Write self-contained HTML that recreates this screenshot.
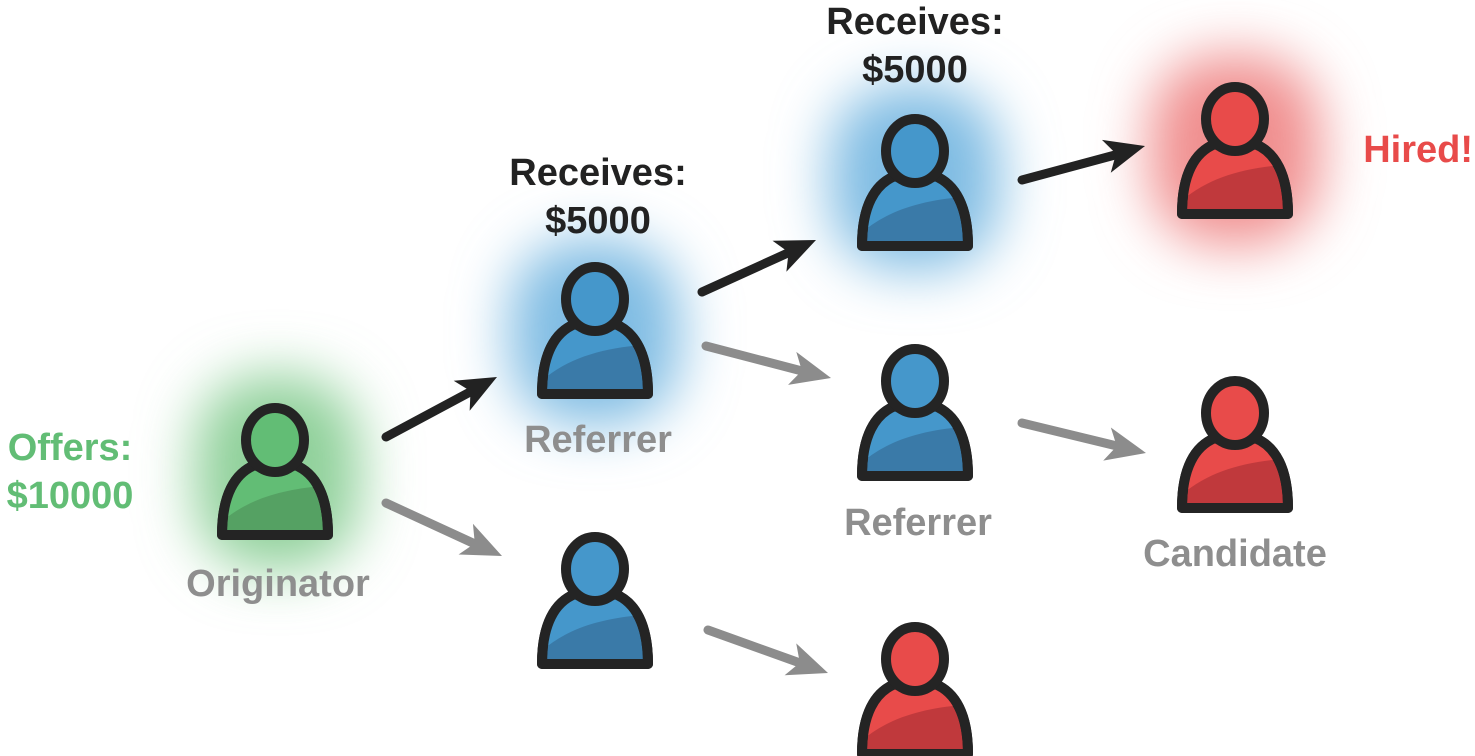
<!DOCTYPE html>
<html><head><meta charset="utf-8"><style>
html,body{margin:0;padding:0;background:#fff;width:1475px;height:756px;overflow:hidden}
svg{display:block}
text{font-family:"Liberation Sans",Arial,sans-serif;font-weight:bold;font-size:38px;text-anchor:middle}
</style></head><body>
<svg width="1475" height="756" viewBox="0 0 1475 756" xmlns="http://www.w3.org/2000/svg">
<defs>
<filter id="blur" x="-50%" y="-50%" width="200%" height="200%"><feGaussianBlur stdDeviation="28"/></filter>
<clipPath id="bc"><path d="M -53 132 L 53 132 C 53 92 40 70 20 62 Q 0 72 -20 62 C -40 70 -53 92 -53 132 Z"/></clipPath>
</defs>

<rect x="195" y="375" width="165" height="195" rx="70" fill="#8fd09a" filter="url(#blur)"/>
<rect x="510" y="240" width="170" height="185" rx="70" fill="#7fbce3" filter="url(#blur)"/>
<rect x="830" y="85" width="170" height="185" rx="70" fill="#7fbce3" filter="url(#blur)"/>
<rect x="1150" y="55" width="170" height="190" rx="70" fill="#f08e8e" filter="url(#blur)"/>

<g stroke-linecap="round" stroke-width="9" fill="none">
<line x1="386" y1="437" x2="470" y2="392" stroke="#222"/>
<line x1="702" y1="292" x2="790" y2="252" stroke="#222"/>
<line x1="1022" y1="180" x2="1115" y2="155" stroke="#222"/>
<line x1="386" y1="503" x2="475" y2="544" stroke="#8c8c8c"/>
<line x1="706" y1="346" x2="802" y2="371" stroke="#8c8c8c"/>
<line x1="1022" y1="423" x2="1117" y2="446" stroke="#8c8c8c"/>
<line x1="708" y1="630" x2="800" y2="663" stroke="#8c8c8c"/>
</g>
<g>
<path transform="translate(497,377) rotate(-28)" d="M0 0 L-40 -17 L-30 0 L-40 17 Z" fill="#222"/>
<path transform="translate(816,240) rotate(-24)" d="M0 0 L-40 -17 L-30 0 L-40 17 Z" fill="#222"/>
<path transform="translate(1145,146) rotate(-15)" d="M0 0 L-40 -17 L-30 0 L-40 17 Z" fill="#222"/>
<path transform="translate(502,556) rotate(25)" d="M0 0 L-40 -17 L-30 0 L-40 17 Z" fill="#8c8c8c"/>
<path transform="translate(831,378) rotate(14)" d="M0 0 L-40 -17 L-30 0 L-40 17 Z" fill="#8c8c8c"/>
<path transform="translate(1146,453) rotate(13)" d="M0 0 L-40 -17 L-30 0 L-40 17 Z" fill="#8c8c8c"/>
<path transform="translate(828,673) rotate(20)" d="M0 0 L-40 -17 L-30 0 L-40 17 Z" fill="#8c8c8c"/>
</g>

<g stroke="#242424" stroke-width="10" stroke-linejoin="round">
<g transform="translate(275,403)">
 <path d="M -53 132 L 53 132 C 53 92 40 70 20 62 Q 0 72 -20 62 C -40 70 -53 92 -53 132 Z" fill="#55a163"/>
 <path clip-path="url(#bc)" stroke="none" d="M -60 125 C -30 95 10 85 60 82 L 60 50 L -60 50 Z" fill="#62bd75"/>
 <path d="M -53 132 L 53 132 C 53 92 40 70 20 62 Q 0 72 -20 62 C -40 70 -53 92 -53 132 Z" fill="none"/>
 <ellipse cx="0" cy="37" rx="29" ry="32" fill="#62bd75"/>
</g>
<g transform="translate(595,262)">
 <path d="M -53 132 L 53 132 C 53 92 40 70 20 62 Q 0 72 -20 62 C -40 70 -53 92 -53 132 Z" fill="#3a7aa8"/>
 <path clip-path="url(#bc)" stroke="none" d="M -60 125 C -30 95 10 85 60 82 L 60 50 L -60 50 Z" fill="#4597cb"/>
 <path d="M -53 132 L 53 132 C 53 92 40 70 20 62 Q 0 72 -20 62 C -40 70 -53 92 -53 132 Z" fill="none"/>
 <ellipse cx="0" cy="37" rx="29" ry="32" fill="#4597cb"/>
</g>
<g transform="translate(915,114)">
 <path d="M -53 132 L 53 132 C 53 92 40 70 20 62 Q 0 72 -20 62 C -40 70 -53 92 -53 132 Z" fill="#3a7aa8"/>
 <path clip-path="url(#bc)" stroke="none" d="M -60 125 C -30 95 10 85 60 82 L 60 50 L -60 50 Z" fill="#4597cb"/>
 <path d="M -53 132 L 53 132 C 53 92 40 70 20 62 Q 0 72 -20 62 C -40 70 -53 92 -53 132 Z" fill="none"/>
 <ellipse cx="0" cy="37" rx="29" ry="32" fill="#4597cb"/>
</g>
<g transform="translate(915,344)">
 <path d="M -53 132 L 53 132 C 53 92 40 70 20 62 Q 0 72 -20 62 C -40 70 -53 92 -53 132 Z" fill="#3a7aa8"/>
 <path clip-path="url(#bc)" stroke="none" d="M -60 125 C -30 95 10 85 60 82 L 60 50 L -60 50 Z" fill="#4597cb"/>
 <path d="M -53 132 L 53 132 C 53 92 40 70 20 62 Q 0 72 -20 62 C -40 70 -53 92 -53 132 Z" fill="none"/>
 <ellipse cx="0" cy="37" rx="29" ry="32" fill="#4597cb"/>
</g>
<g transform="translate(595,532)">
 <path d="M -53 132 L 53 132 C 53 92 40 70 20 62 Q 0 72 -20 62 C -40 70 -53 92 -53 132 Z" fill="#3a7aa8"/>
 <path clip-path="url(#bc)" stroke="none" d="M -60 125 C -30 95 10 85 60 82 L 60 50 L -60 50 Z" fill="#4597cb"/>
 <path d="M -53 132 L 53 132 C 53 92 40 70 20 62 Q 0 72 -20 62 C -40 70 -53 92 -53 132 Z" fill="none"/>
 <ellipse cx="0" cy="37" rx="29" ry="32" fill="#4597cb"/>
</g>
<g transform="translate(1235,82)">
 <path d="M -53 132 L 53 132 C 53 92 40 70 20 62 Q 0 72 -20 62 C -40 70 -53 92 -53 132 Z" fill="#c0393c"/>
 <path clip-path="url(#bc)" stroke="none" d="M -60 125 C -30 95 10 85 60 82 L 60 50 L -60 50 Z" fill="#e84b4a"/>
 <path d="M -53 132 L 53 132 C 53 92 40 70 20 62 Q 0 72 -20 62 C -40 70 -53 92 -53 132 Z" fill="none"/>
 <ellipse cx="0" cy="37" rx="29" ry="32" fill="#e84b4a"/>
</g>
<g transform="translate(1235,376)">
 <path d="M -53 132 L 53 132 C 53 92 40 70 20 62 Q 0 72 -20 62 C -40 70 -53 92 -53 132 Z" fill="#c0393c"/>
 <path clip-path="url(#bc)" stroke="none" d="M -60 125 C -30 95 10 85 60 82 L 60 50 L -60 50 Z" fill="#e84b4a"/>
 <path d="M -53 132 L 53 132 C 53 92 40 70 20 62 Q 0 72 -20 62 C -40 70 -53 92 -53 132 Z" fill="none"/>
 <ellipse cx="0" cy="37" rx="29" ry="32" fill="#e84b4a"/>
</g>
<g transform="translate(915,622)">
 <path d="M -53 132 L 53 132 C 53 92 40 70 20 62 Q 0 72 -20 62 C -40 70 -53 92 -53 132 Z" fill="#c0393c"/>
 <path clip-path="url(#bc)" stroke="none" d="M -60 125 C -30 95 10 85 60 82 L 60 50 L -60 50 Z" fill="#e84b4a"/>
 <path d="M -53 132 L 53 132 C 53 92 40 70 20 62 Q 0 72 -20 62 C -40 70 -53 92 -53 132 Z" fill="none"/>
 <ellipse cx="0" cy="37" rx="29" ry="32" fill="#e84b4a"/>
</g>
</g>

<text x="598" y="185" fill="#222">Receives:</text>
<text x="598" y="233" fill="#222">$5000</text>
<text x="915" y="34" fill="#222">Receives:</text>
<text x="915" y="82" fill="#222">$5000</text>
<text x="1473" y="162" fill="#e84b4a" style="text-anchor:end">Hired!</text>
<text x="70" y="460" fill="#62bd75">Offers:</text>
<text x="70" y="508" fill="#62bd75">$10000</text>
<text x="598" y="452" fill="#8e8e8e">Referrer</text>
<text x="918" y="535" fill="#8e8e8e">Referrer</text>
<text x="1235" y="566" fill="#8e8e8e">Candidate</text>
<text x="278" y="596" fill="#8e8e8e">Originator</text>
</svg>
</body></html>
